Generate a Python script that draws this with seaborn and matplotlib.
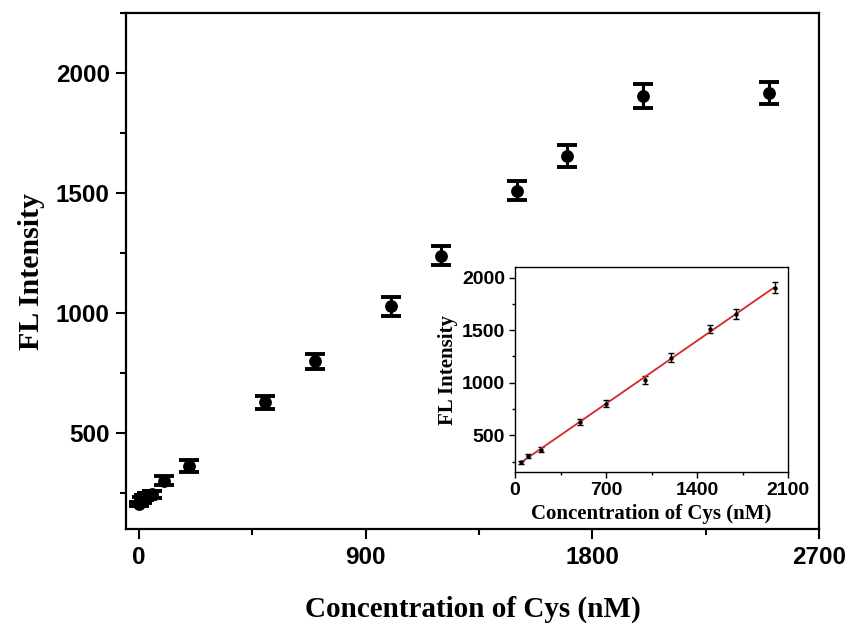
import numpy as np
import matplotlib
matplotlib.use("Agg")
import matplotlib.pyplot as plt
from matplotlib.ticker import MultipleLocator
import seaborn as sns

# Fluorescence response vs. cysteine concentration
conc = [0, 10, 20, 30, 50, 100, 200, 500, 700, 1000, 1200, 1500, 1700, 2000, 2500]
intensity = [205, 222, 232, 238, 245, 302, 365, 628, 800, 1028, 1240, 1510, 1655, 1905, 1918]
err = [10, 12, 12, 12, 15, 19, 25, 29, 32, 38, 40, 40, 47, 50, 45]

# Linear range shown in the inset
lin_conc = [50, 100, 200, 500, 700, 1000, 1200, 1500, 1700, 2000]
lin_int = [245, 302, 365, 628, 800, 1028, 1240, 1510, 1655, 1905]
lin_err = [15, 19, 25, 29, 32, 38, 40, 40, 47, 50]

main_xticks = [0, 900, 1800, 2700]
main_yticks = [500, 1000, 1500, 2000]
inset_xticks = [0, 700, 1400, 2100]
inset_yticks = [500, 1000, 1500, 2000]

sns.set_theme(style="ticks")
plt.rcParams["font.family"] = ["Liberation Sans", "DejaVu Sans"]
plt.rcParams["text.color"] = "black"
plt.rcParams["axes.labelcolor"] = "black"
plt.rcParams["xtick.color"] = "black"
plt.rcParams["ytick.color"] = "black"

fig = plt.figure(figsize=(8.54, 6.27), dpi=100)
ax = fig.add_axes([0.148, 0.156, 0.811, 0.823])

ax.errorbar(conc, intensity, yerr=err, fmt="none", ecolor="black",
            elinewidth=2.2, capsize=7, capthick=2.8, zorder=2)
sns.scatterplot(x=conc, y=intensity, ax=ax, color="black", s=85,
                edgecolor="black", linewidth=0, zorder=3)

ax.set_xlim(-50, 2700)
ax.set_ylim(100, 2250)
ax.set_xticks(main_xticks)
ax.set_yticks(main_yticks)
ax.xaxis.set_minor_locator(MultipleLocator(450))
ax.yaxis.set_minor_locator(MultipleLocator(250))
ax.tick_params(which="major", direction="out", length=7, width=1.5,
               labelsize=17.5, pad=5, colors="black")
ax.tick_params(which="minor", direction="out", length=4, width=1.5, colors="black")
for lbl in ax.get_xticklabels() + ax.get_yticklabels():
    lbl.set_fontweight("bold")
for sp in ax.spines.values():
    sp.set_linewidth(1.6)
    sp.set_color("black")
    sp.set_visible(True)

ax.set_xlabel("Concentration of Cys (nM)", fontsize=21, fontweight="bold",
              family=["Liberation Serif"], labelpad=19, color="black")
ax.set_ylabel("FL Intensity", fontsize=21.5, fontweight="bold",
              family=["Liberation Serif"], labelpad=8, color="black")

# Inset: linear fit over 50-2000 nM
ins = fig.add_axes([0.603, 0.247, 0.320, 0.327])
ins.errorbar(lin_conc, lin_int, yerr=lin_err, fmt="none", ecolor="black",
             elinewidth=1.0, capsize=2.5, capthick=1.0, zorder=2)
sns.regplot(x=lin_conc, y=lin_int, ax=ins, ci=None, scatter=False,
            line_kws=dict(color="#d62728", linewidth=1.3), truncate=True)
sns.scatterplot(x=lin_conc, y=lin_int, ax=ins, color="black", s=10,
                linewidth=0, zorder=3)
ins.set_xlim(0, 2100)
ins.set_ylim(150, 2100)
ins.set_xticks(inset_xticks)
ins.set_yticks(inset_yticks)
ins.xaxis.set_minor_locator(MultipleLocator(350))
ins.yaxis.set_minor_locator(MultipleLocator(250))
ins.tick_params(which="major", direction="out", length=4, width=1.0,
                labelsize=14, pad=3, colors="black")
ins.tick_params(which="minor", direction="out", length=2.5, width=1.0, colors="black")
for lbl in ins.get_xticklabels() + ins.get_yticklabels():
    lbl.set_fontweight("bold")
for sp in ins.spines.values():
    sp.set_linewidth(1.0)
    sp.set_color("black")
    sp.set_visible(True)
ins.set_xlabel("Concentration of Cys (nM)", fontsize=15, fontweight="bold",
               family=["Liberation Serif"], labelpad=4, color="black")
ins.set_ylabel("FL Intensity", fontsize=15, fontweight="bold",
               family=["Liberation Serif"], labelpad=3, color="black")

fig.savefig("out.png", dpi=100)
